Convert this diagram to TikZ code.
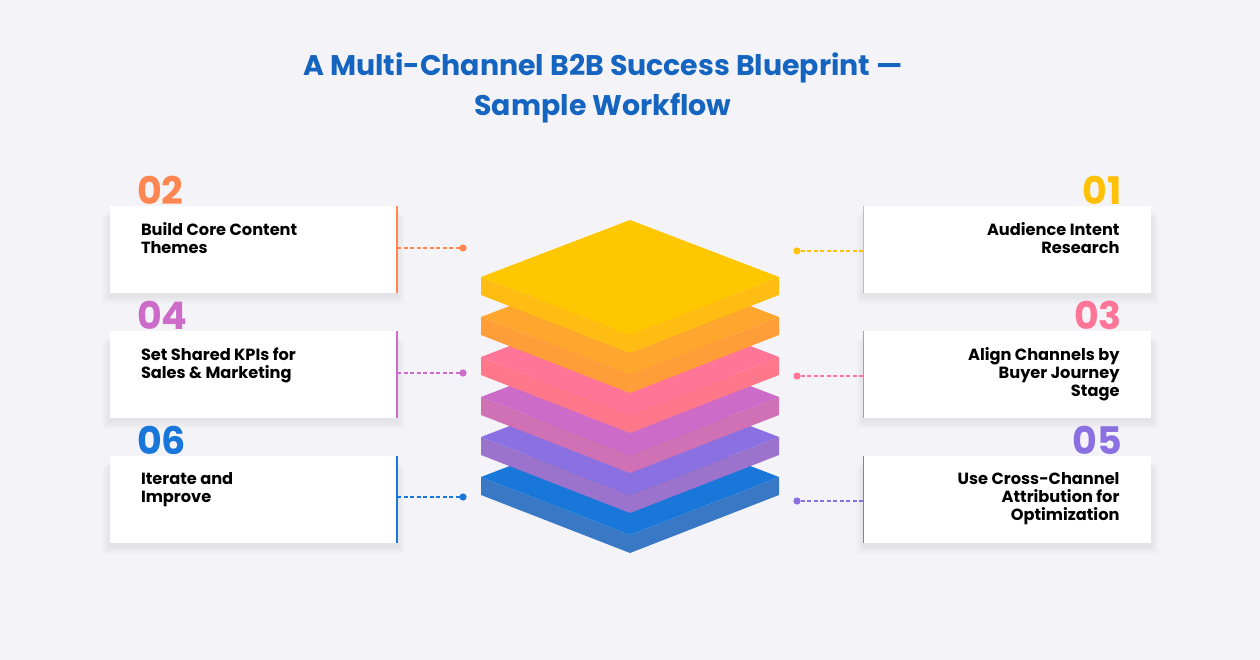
\documentclass[tikz,border=0pt]{standalone}
\usepackage{fontspec}
\setmainfont{Poppins}
\definecolor{bg}{HTML}{F4F4F8}
\definecolor{ttl}{HTML}{1565C0}
\definecolor{cA}{HTML}{FFC700}\definecolor{sA}{HTML}{FFBC12}
\definecolor{cB}{HTML}{FFA62E}\definecolor{sB}{HTML}{FF9E38}
\definecolor{cC}{HTML}{FF7598}\definecolor{sC}{HTML}{FF778A}
\definecolor{cD}{HTML}{CC6BC8}\definecolor{sD}{HTML}{D070B5}
\definecolor{cE}{HTML}{8A70E0}\definecolor{sE}{HTML}{9B72CC}
\definecolor{cF}{HTML}{1877D8}\definecolor{sF}{HTML}{3878C5}
\definecolor{n2}{HTML}{FF8650}\definecolor{n1}{HTML}{FFC107}
\tikzset{
 card/.style={fill=white,draw=none,minimum width=287pt,minimum height=87pt,inner sep=0pt},
 num/.style={font=\bfseries\fontsize{38}{38}\selectfont,inner sep=0pt},
 lbl/.style={font=\bfseries\fontsize{16.2}{18}\selectfont,inner sep=0pt,text=black},
 dconn/.style={dash pattern=on 4pt off 2.5pt,line width=1.1pt},
 vline/.style={line width=1.6pt}
}
\newcommand{\layer}[3]{%
 \fill[#3] (481,#1) -- (630,#1+58) -- (630,#1+76) -- (481,#1+18) -- cycle;
 \fill[#3] (779,#1) -- (630,#1+58) -- (630,#1+76) -- (779,#1+18) -- cycle;
 \fill[#2] (630,#1-57) -- (779,#1) -- (630,#1+58) -- (481,#1) -- cycle;}
\newcommand{\softshadow}[2]{%
 \foreach \k in {1,...,8}{\fill[black,opacity=0.008] (#1-143.5-\k,#2-40+\k) rectangle (#1+143.5+\k,#2+46.5+\k);}}
\begin{document}
\begin{tikzpicture}[x=1pt,y=-1pt]
\fill[bg] (0,0) rectangle (1260,660);
\useasboundingbox (0,0) rectangle (1260,660);
\node[font=\bfseries\fontsize{28.4}{40}\selectfont,text=ttl,align=center] (title) at (603,88) {A Multi-Channel B2B Success Blueprint —\\Sample Workflow};
\layer{477}{cF}{sF}
\layer{437}{cE}{sE}
\layer{397}{cD}{sD}
\layer{357}{cC}{sC}
\layer{317}{cB}{sB}
\layer{277}{cA}{sA}
\foreach \n/\y/\c/\t in {L1/249.5/n2/{Build Core Content\\Themes}, L2/374.5/cD/{Set Shared KPIs for\\Sales \& Marketing}, L3/499.5/cF/{Iterate and\\Improve}}{
 \softshadow{253.5}{\y}
 \node[card] (\n) at (253.5,\y) {};
 \draw[\c,vline] (\n.north east) -- (\n.south east);
 \node[lbl,anchor=north west,align=left] (\n t) at ([xshift=31pt,yshift=-17pt]\n.north west) {\t};
}
\foreach \n/\y/\c/\t in {R1/249.5/n1/{Audience Intent\\Research}, R2/374.5/cC/{Align Channels by\\Buyer Journey\\Stage}, R3/499.5/cE/{Use Cross-Channel\\Attribution for\\Optimization}}{
 \softshadow{1007}{\y}
 \node[card] (\n) at (1007,\y) {};
 \draw[\c,vline] (\n.north west) -- (\n.south west);
 \node[lbl,anchor=north east,align=right] (\n t) at ([xshift=-31pt,yshift=-17pt]\n.north east) {\t};
}
\node[num,text=n2,anchor=south west] (N2) at (137,205) {02};
\node[num,text=cD,anchor=south west] (N4) at (137,330) {04};
\node[num,text=cF,anchor=south west] (N6) at (137,455) {06};
\node[num,text=n1,anchor=south east] (N1) at (1122,205) {01};
\node[num,text=cC,anchor=south east] (N3) at (1122,330) {03};
\node[num,text=cE,anchor=south east] (N5) at (1122,455) {05};
\foreach \n/\y/\c [count=\i] in {L1/248/n2,L2/373/cD,L3/497/cF}{
 \coordinate (dl\i) at (463,\y);
 \draw[\c,dconn] (\n.east |- dl\i) -- (dl\i);
 \fill[\c] (dl\i) circle (3.6pt);
}
\foreach \n/\y/\c [count=\i] in {R1/251/n1,R2/376/cC,R3/501/cE}{
 \coordinate (dr\i) at (797,\y);
 \draw[\c,dconn] (\n.west |- dr\i) -- (dr\i);
 \fill[\c] (dr\i) circle (3.6pt);
}
\end{tikzpicture}
\end{document}
